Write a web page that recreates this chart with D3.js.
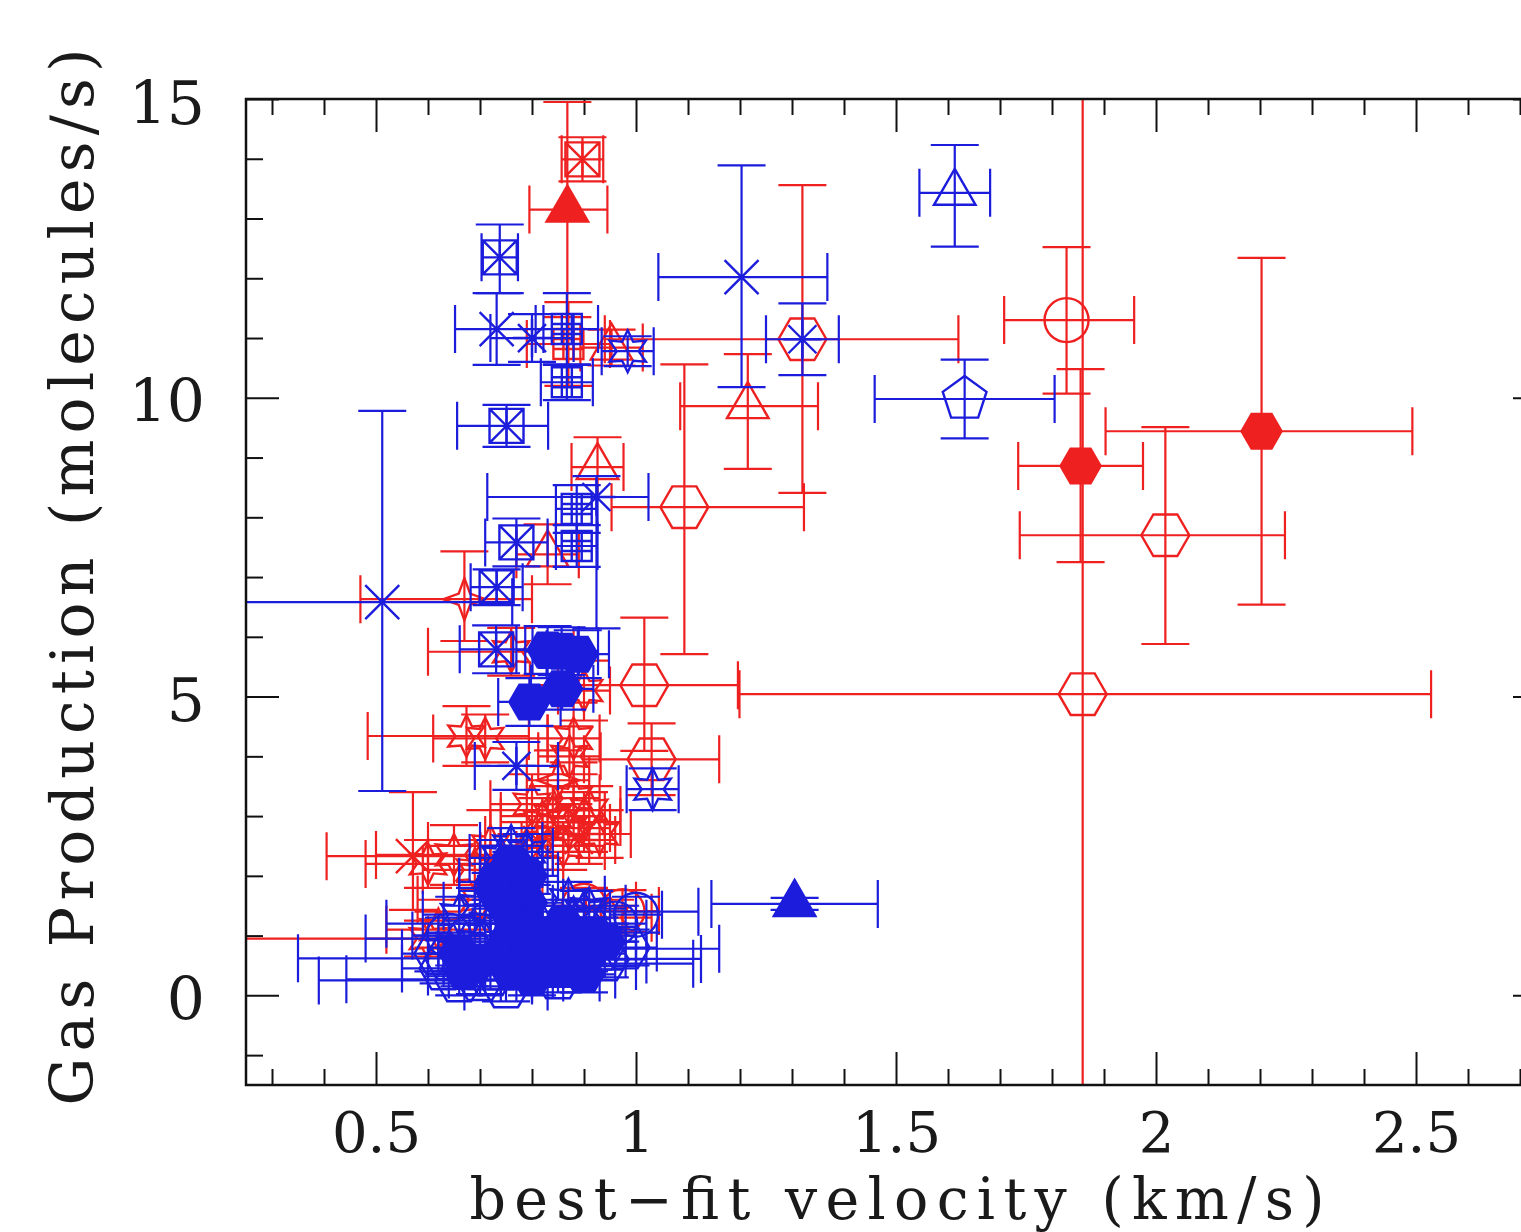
<!DOCTYPE html>
<html>
<head>
<meta charset="utf-8">
<script src="https://cdn.jsdelivr.net/npm/d3@7"></script>
<style>
	body { margin: 0; background: #fff; }
	text { font-family: "DejaVu Serif", "Liberation Serif", serif; fill: #1a1a1a; }
</style>
</head>
<body>
<script>
// tick values
var xMajor = [0.5, 1, 1.5, 2, 2.5]
var yMajor = [0, 5, 10, 15]

// one row per measurement: [velocity, production, x-, x+, y-, y+, marker]
var redPoints = [
	[1.859, 5.04, 0.66, 0.67, 20, 20, "hex"],
	[1.855, 8.86, 0.12, 0.12, 1.61, 1.62, "hexf"],
	[2.203, 9.44, 0.30, 0.29, 2.9, 2.9, "hexf"],
	[2.018, 7.70, 0.28, 0.23, 1.82, 1.81, "hex"],
	[1.828, 11.30, 0.12, 0.13, 1.23, 1.22, "circle"],
	[1.215, 9.86, 0.13, 0.135, 1.05, 0.87, "tri"],
	[1.320, 10.98, 0.38, 0.30, 2.57, 2.58, "hex"],
	[1.093, 8.17, 0.14, 0.23, 2.46, 2.39, "hex"],
	[1.016, 5.19, 0.22, 0.18, 1.1, 1.13, "hex"],
	[1.030, 3.95, 0.13, 0.13, 0.6, 0.6, "hex"],
	[0.897, 13.99, 0.04, 0.04, 0.37, 0.37, "boxx"],
	[0.868, 13.15, 0.073, 0.077, 1.8, 1.8, "trif"],
	[0.953, 10.84, 0.06, 0.06, 0.3, 0.3, "tri"],
	[0.870, 10.90, 0.08, 0.08, 0.7, 0.7, "grid"],
	[0.926, 8.84, 0.05, 0.05, 0.5, 0.5, "tri"],
	[0.830, 7.38, 0.06, 0.06, 0.5, 0.5, "tri"],
	[0.670, 6.63, 0.20, 0.13, 0.7, 0.8, "star4"],
	[0.760, 5.75, 0.16, 0.12, 0.4, 0.4, "star6"],
	[0.674, 4.34, 0.19, 0.12, 0.5, 0.5, "star6"],
	[0.710, 4.30, 0.10, 0.12, 0.4, 0.4, "star6"],
	[0.571, 2.33, 0.166, 0.13, 0.9, 1.07, "xcross"],
	[0.872, 4.00, 0.06, 0.06, 0.5, 0.5, "star6"],
	[0.900, 5.10, 0.05, 0.05, 0.5, 0.5, "star6"],
	[0.880, 4.30, 0.05, 0.05, 0.6, 0.6, "star6"],
	[0.840, 3.00, 0.10, 0.10, 0.5, 0.5, "star6"],
	[0.870, 2.80, 0.08, 0.08, 0.4, 0.4, "star6"],
	[0.900, 2.90, 0.07, 0.07, 0.5, 0.5, "tri"],
	[0.930, 2.70, 0.06, 0.06, 0.4, 0.4, "star6"],
	[0.810, 2.60, 0.10, 0.10, 0.5, 0.5, "ast"],
	[0.780, 2.30, 0.08, 0.08, 0.4, 0.4, "star6"],
	[0.720, 2.50, 0.12, 0.12, 0.6, 0.6, "star6"],
	[0.690, 2.10, 0.10, 0.10, 0.5, 0.5, "star6"],
	[0.650, 2.35, 0.15, 0.12, 0.5, 0.5, "star6"],
	[0.880, 3.30, 0.05, 0.05, 0.6, 0.6, "star6"],
	[0.850, 3.60, 0.06, 0.06, 0.5, 0.5, "star4"],
	[0.860, 2.50, 0.08, 0.08, 0.4, 0.4, "star6"],
	[0.890, 2.60, 0.07, 0.07, 0.4, 0.4, "ast"],
	[0.820, 2.90, 0.08, 0.08, 0.4, 0.4, "star6"],
	[0.910, 3.10, 0.06, 0.06, 0.4, 0.4, "star6"],
	[0.800, 3.20, 0.08, 0.08, 0.5, 0.5, "star6"],
	[0.600, 2.20, 0.12, 0.12, 0.4, 0.4, "star6"],
	[0.974, 1.41, 0.07, 0.07, 0.35, 0.35, "circle"],
	[0.950, 1.30, 0.08, 0.08, 0.3, 0.3, "star6"],
	[0.700, 1.60, 0.12, 0.12, 0.3, 0.3, "star6"],
	[0.620, 1.10, 0.10, 0.10, 0.3, 0.3, "star6"],
	[0.600, 0.95, 0.40, 0.10, 0.3, 0.3, "star6"],
	[0.900, 1.50, 0.10, 0.10, 0.3, 0.3, "circle"]
]

var bluePoints = [
	[0.738, 12.35, 0.035, 0.035, 0.6, 0.55, "boxx"],
	[0.732, 11.15, 0.08, 0.09, 0.6, 0.6, "xcross"],
	[0.800, 11.00, 0.08, 0.08, 0.4, 0.4, "ast"],
	[0.867, 11.15, 0.06, 0.06, 0.6, 0.6, "grid"],
	[0.984, 10.78, 0.05, 0.05, 0.25, 0.25, "star6"],
	[0.867, 10.26, 0.05, 0.05, 0.3, 0.3, "grid"],
	[0.751, 9.53, 0.095, 0.08, 0.35, 0.35, "boxx"],
	[1.203, 12.02, 0.16, 0.165, 1.84, 1.87, "xcross"],
	[1.320, 10.98, 0.07, 0.07, 0.6, 0.6, "ast"],
	[1.613, 13.43, 0.068, 0.068, 0.9, 0.8, "tri"],
	[1.632, 9.98, 0.173, 0.173, 0.66, 0.66, "pent"],
	[0.512, 6.58, 0.27, 0.25, 3.16, 3.2, "xcross"],
	[0.732, 6.83, 0.05, 0.05, 0.3, 0.3, "boxx"],
	[0.770, 7.58, 0.06, 0.06, 0.4, 0.4, "boxx"],
	[0.886, 8.14, 0.04, 0.04, 0.4, 0.4, "grid"],
	[0.886, 7.52, 0.04, 0.04, 0.35, 0.35, "grid"],
	[0.924, 8.34, 0.21, 0.10, 2.2, 0.35, "ast"],
	[0.731, 5.79, 0.07, 0.07, 0.4, 0.4, "boxx"],
	[0.830, 5.78, 0.06, 0.06, 0.4, 0.4, "hexf"],
	[0.857, 5.76, 0.07, 0.07, 0.4, 0.4, "hexf"],
	[0.888, 5.71, 0.06, 0.06, 0.4, 0.4, "hexf"],
	[0.795, 4.91, 0.06, 0.06, 0.4, 0.4, "hexf"],
	[0.858, 5.13, 0.06, 0.06, 0.35, 0.35, "hexf"],
	[0.770, 3.84, 0.08, 0.08, 0.4, 0.4, "ast"],
	[1.032, 3.45, 0.05, 0.05, 0.35, 0.35, "star6"],
	[1.305, 1.53, 0.16, 0.16, 0.1, 0.1, "trif"],
	[0.740, 2.30, 0.06, 0.06, 0.3, 0.3, "star6"],
	[0.770, 2.10, 0.06, 0.06, 0.3, 0.3, "star6"],
	[0.730, 1.90, 0.07, 0.07, 0.3, 0.3, "hexf"],
	[0.790, 2.40, 0.05, 0.05, 0.3, 0.3, "star6"],
	[0.760, 2.50, 0.06, 0.06, 0.3, 0.3, "star6"],
	[0.640, 0.62, 0.29, 0.12, 0.3, 0.3, "hex"],
	[0.660, 0.25, 0.27, 0.14, 0.25, 0.25, "hex"],
	[0.700, 0.27, 0.257, 0.10, 0.25, 0.25, "hex"],
	[0.680, 0.95, 0.20, 0.10, 0.3, 0.3, "circle"],
	[0.720, 1.20, 0.20, 0.10, 0.3, 0.3, "star6"],
	[0.900, 1.40, 0.10, 0.22, 0.35, 0.35, "star6"],
	[0.930, 0.78, 0.10, 0.23, 0.35, 0.35, "hex"],
	[0.870, 0.53, 0.10, 0.24, 0.35, 0.35, "hex"],
	[0.900, 0.61, 0.10, 0.225, 0.35, 0.35, "hexf"],
	[0.850, 0.49, 0.10, 0.15, 0.35, 0.35, "hexf"],
	[0.630, 0.45, 0.08, 0.08, 0.25, 0.25, "hex"],
	[0.700, 0.90, 0.08, 0.08, 0.3, 0.3, "star6"],
	[0.640, 1.00, 0.07, 0.07, 0.3, 0.3, "circle"],
	[0.660, 1.35, 0.07, 0.07, 0.3, 0.3, "star6"],
	[0.720, 0.35, 0.08, 0.08, 0.25, 0.25, "hex"],
	[0.740, 0.70, 0.08, 0.08, 0.3, 0.3, "hexf"],
	[0.760, 1.00, 0.08, 0.08, 0.3, 0.3, "hexf"],
	[0.780, 0.50, 0.08, 0.08, 0.3, 0.3, "hexf"],
	[0.800, 0.80, 0.08, 0.08, 0.3, 0.3, "hex"],
	[0.820, 1.20, 0.08, 0.08, 0.3, 0.3, "star6"],
	[0.840, 0.60, 0.08, 0.08, 0.3, 0.3, "hexf"],
	[0.860, 0.90, 0.08, 0.08, 0.3, 0.3, "hexf"],
	[0.880, 1.30, 0.06, 0.06, 0.3, 0.3, "star6"],
	[0.900, 0.70, 0.08, 0.08, 0.3, 0.3, "hex"],
	[0.920, 1.00, 0.08, 0.08, 0.3, 0.3, "hexf"],
	[0.940, 0.60, 0.08, 0.08, 0.3, 0.3, "hex"],
	[0.960, 1.20, 0.06, 0.06, 0.3, 0.3, "circle"],
	[0.980, 0.80, 0.06, 0.06, 0.3, 0.3, "hex"],
	[0.850, 0.30, 0.08, 0.08, 0.25, 0.25, "hex"],
	[0.750, 0.15, 0.08, 0.08, 0.25, 0.25, "hex"],
	[0.700, 1.50, 0.07, 0.07, 0.3, 0.3, "star6"],
	[0.730, 1.75, 0.07, 0.07, 0.3, 0.3, "hexf"],
	[0.790, 1.55, 0.07, 0.07, 0.3, 0.3, "hexf"],
	[0.870, 1.60, 0.07, 0.07, 0.3, 0.3, "star6"],
	[0.910, 1.45, 0.07, 0.07, 0.3, 0.3, "star6"],
	[1.000, 1.35, 0.05, 0.05, 0.3, 0.3, "circle"],
	[0.830, 0.45, 0.08, 0.08, 0.3, 0.3, "hexf"],
	[0.620, 0.70, 0.07, 0.07, 0.3, 0.3, "hex"],
	[0.670, 0.40, 0.07, 0.07, 0.25, 0.25, "hexf"],
	[0.760, 0.40, 0.06, 0.06, 0.3, 0.3, "hexf"],
	[0.800, 0.30, 0.06, 0.06, 0.3, 0.3, "hexf"],
	[0.820, 0.75, 0.06, 0.06, 0.3, 0.3, "hexf"],
	[0.880, 0.95, 0.06, 0.06, 0.3, 0.3, "hexf"],
	[0.900, 0.35, 0.06, 0.06, 0.3, 0.3, "hexf"],
	[0.780, 1.30, 0.06, 0.06, 0.3, 0.3, "hexf"],
	[0.750, 1.50, 0.06, 0.06, 0.3, 0.3, "hexf"],
	[0.760, 2.20, 0.06, 0.06, 0.3, 0.3, "hexf"],
	[0.790, 2.00, 0.06, 0.06, 0.3, 0.3, "hexf"],
	[0.660, 0.70, 0.06, 0.06, 0.3, 0.3, "hexf"],
	[0.690, 0.55, 0.06, 0.06, 0.3, 0.3, "hexf"],
	[0.940, 0.90, 0.06, 0.06, 0.3, 0.3, "hexf"],
	[0.860, 1.20, 0.06, 0.06, 0.3, 0.3, "hexf"],
	[0.810, 1.00, 0.06, 0.06, 0.3, 0.3, "hexf"]
]

var W = 1521, H = 1232
var plotL = 246, plotR = 1546, plotT = 99, plotB = 1085
var CAP = 24

var svg = d3.select("body").append("svg")
	.attr("width", W)
	.attr("height", H)

var x = d3.scaleLinear().domain([0.25, 2.75]).range([plotL, plotR])
var y = d3.scaleLinear().domain([-1.5, 15]).range([plotB, plotT])

svg.append("clipPath").attr("id", "plotclip")
	.append("rect")
	.attr("x", plotL).attr("y", plotT)
	.attr("width", plotR - plotL).attr("height", plotB - plotT)

// minor ticks every 0.1 in x and 1 in y
var xMinor = d3.range(3, 28).filter(function(d) { return d % 5 != 0 }).map(function(d) { return d / 10 })
var yMinor = d3.range(-1, 15).filter(function(d) { return d % 5 != 0 })

function noDomain(g) { g.select(".domain").remove() }

function frameAxis(axis, pos, vals, size) {
	svg.append("g")
		.attr("transform", pos)
		.call(axis.tickValues(vals).tickSize(size).tickFormat(""))
		.call(noDomain)
		.selectAll("line").attr("stroke", "#111").attr("stroke-width", 2)
}

frameAxis(d3.axisBottom(x), "translate(0," + plotB + ")", xMinor, -16)
frameAxis(d3.axisBottom(x), "translate(0," + plotB + ")", xMajor, -33)
frameAxis(d3.axisTop(x), "translate(0," + plotT + ")", xMinor, -16)
frameAxis(d3.axisTop(x), "translate(0," + plotT + ")", xMajor, -33)
frameAxis(d3.axisLeft(y), "translate(" + plotL + ",0)", yMinor, -17)
frameAxis(d3.axisLeft(y), "translate(" + plotL + ",0)", yMajor, -33)
frameAxis(d3.axisRight(y), "translate(" + plotR + ",0)", yMinor, -17)
frameAxis(d3.axisRight(y), "translate(" + plotR + ",0)", yMajor, -33)

// tick labels
var xl = svg.append("g")
	.attr("transform", "translate(0," + plotB + ")")
	.call(d3.axisBottom(x).tickValues(xMajor).tickSize(0).tickPadding(27).tickFormat(d3.format("")))
	.call(noDomain)
xl.selectAll("text").attr("font-size", 56).attr("font-family", null).attr("fill", null)

var yl = svg.append("g")
	.attr("transform", "translate(" + plotL + ",0)")
	.call(d3.axisLeft(y).tickValues(yMajor).tickSize(0).tickPadding(41).tickFormat(d3.format("")))
	.call(noDomain)
yl.selectAll("text").attr("font-size", 60).attr("dy", "0.4em").attr("font-family", null).attr("fill", null)

svg.append("text")
	.attr("x", 897).attr("y", 1219)
	.attr("text-anchor", "middle")
	.attr("font-size", 57)
	.attr("textLength", 855)
	.text("best\u2212fit velocity (km/s)")

svg.append("text")
	.attr("transform", "translate(93,577) rotate(-90)")
	.attr("text-anchor", "middle")
	.attr("font-size", 60)
	.attr("textLength", 1057)
	.text("Gas Production (molecules/s)")

// markers
function poly(p, n, r, rot) {
	for (var i = 0; i < n; i++) {
		var a = rot + 2 * Math.PI * i / n
		if (i == 0) p.moveTo(r * Math.cos(a), r * Math.sin(a))
		else p.lineTo(r * Math.cos(a), r * Math.sin(a))
	}
	p.closePath()
}

function star(p, n, r, ri, rot) {
	for (var i = 0; i < 2 * n; i++) {
		var a = rot + Math.PI * i / n
		var rr = i % 2 ? ri : r
		if (i == 0) p.moveTo(rr * Math.cos(a), rr * Math.sin(a))
		else p.lineTo(rr * Math.cos(a), rr * Math.sin(a))
	}
	p.closePath()
}

function seg(p, x0, y0, x1, y1) { p.moveTo(x0, y0); p.lineTo(x1, y1) }

function markerPath(m) {
	var p = d3.path()
	if (m == "circle") { p.moveTo(22, 0); p.arc(0, 0, 22, 0, 2 * Math.PI) }
	else if (m == "hex") poly(p, 6, 24, 0)
	else if (m == "hexf") poly(p, 6, 20, 0)
	else if (m == "tri" || m == "trif") poly(p, 3, 24, -Math.PI / 2)
	else if (m == "pent") poly(p, 5, 23, -Math.PI / 2)
	else if (m == "star4") star(p, 4, 21, 8, -Math.PI / 2)
	else if (m == "star6") star(p, 6, 21, 11, -Math.PI / 2)
	else if (m == "xcross") { seg(p, -17, -17, 17, 17); seg(p, -17, 17, 17, -17) }
	else if (m == "ast") {
		seg(p, -14, -14, 14, 14); seg(p, -14, 14, 14, -14)
		seg(p, 0, -19, 0, 19); seg(p, -19, 0, 19, 0)
	}
	else if (m == "boxx") {
		p.rect(-17, -17, 34, 34)
		seg(p, -17, -17, 17, 17); seg(p, -17, 17, 17, -17)
		seg(p, 0, -17, 0, 17)
	}
	else if (m == "grid") {
		p.rect(-15, -15, 30, 30)
		seg(p, -5, -15, -5, 15); seg(p, 5, -15, 5, 15)
		seg(p, -15, -5, 15, -5); seg(p, -15, 5, 15, 5)
	}
	return p.toString()
}

function errPath(d) {
	var p = d3.path()
	var cx = x(d[0]), cy = y(d[1])
	var x0 = x(d[0] - d[2]), x1 = x(d[0] + d[3])
	var y0 = y(d[1] - d[4]), y1 = y(d[1] + d[5])
	seg(p, x0, cy, x1, cy)
	seg(p, x0, cy - CAP, x0, cy + CAP)
	seg(p, x1, cy - CAP, x1, cy + CAP)
	seg(p, cx, y0, cx, y1)
	seg(p, cx - CAP, y0, cx + CAP, y0)
	seg(p, cx - CAP, y1, cx + CAP, y1)
	return p.toString()
}

function drawSeries(data, color) {
	var g = svg.append("g").attr("clip-path", "url(#plotclip)")
	g.selectAll(".err")
		.data(data)
		.enter().append("path")
		.attr("class", "err")
		.attr("d", errPath)
		.attr("fill", "none")
		.attr("stroke", color)
		.attr("stroke-width", 2.2)
	g.selectAll(".mark")
		.data(data)
		.enter().append("path")
		.attr("class", "mark")
		.attr("transform", function(d) { return "translate(" + x(d[0]) + "," + y(d[1]) + ")" })
		.attr("d", function(d) { return markerPath(d[6]) })
		.attr("fill", function(d) { return d[6] == "hexf" || d[6] == "trif" ? color : "none" })
		.attr("stroke", color)
		.attr("stroke-width", 2.4)
}

drawSeries(redPoints, "#ee2020")
drawSeries(bluePoints, "#1c1cdc")

// frame
svg.append("rect")
	.attr("x", plotL).attr("y", plotT)
	.attr("width", plotR - plotL).attr("height", plotB - plotT)
	.attr("fill", "none")
	.attr("stroke", "#111")
	.attr("stroke-width", 2.5)
</script>
</body>
</html>
